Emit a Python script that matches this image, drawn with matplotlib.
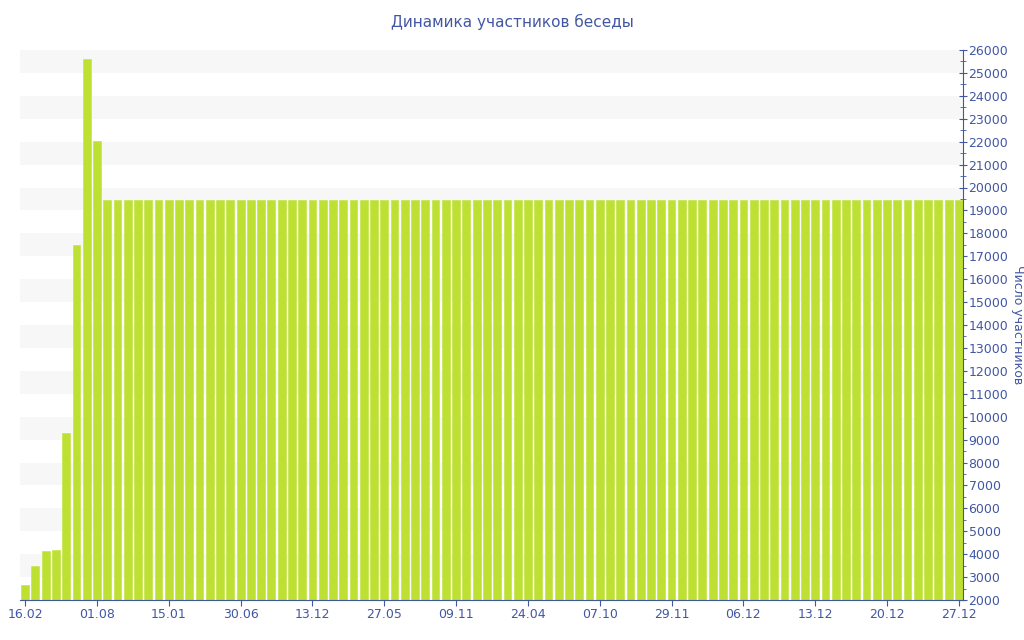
import matplotlib.pyplot as plt
import numpy as np
from matplotlib.ticker import MultipleLocator

# число участников по дням
first_days = [2650, 3500, 4150, 4200, 9300, 17500, 25620, 22050]
plateau = 19450
members = first_days + [plateau] * 84

tick_labels = ['16.02', '01.08', '15.01', '30.06', '13.12', '27.05', '09.11',
               '24.04', '07.10', '29.11', '06.12', '13.12', '20.12', '27.12']

blue = '#4257a3'
x = np.arange(len(members))

fig = plt.figure(figsize=(10.24, 6.4), dpi=100)
ax = fig.add_axes([20 / 1024, 40 / 640, 943 / 1024, 550 / 640])

ax.set_ylim(2000, 26000)
ax.set_xlim(-0.5, len(members) - 0.6)

# полосы фона
for lo in range(3000, 26000, 2000):
    ax.axhspan(lo, lo + 1000, color='#f7f7f7', lw=0, zorder=0)

ax.bar(x, np.array(members) - 2000, bottom=2000, width=0.76,
       color='#bde032', edgecolor='#c6e54a', linewidth=0.5, zorder=2)

ax.yaxis.tick_right()
ax.yaxis.set_label_position('right')
ax.yaxis.set_major_locator(MultipleLocator(1000))
ax.yaxis.set_minor_locator(MultipleLocator(500))
ax.tick_params(axis='y', which='major', direction='inout', length=6, color=blue,
               labelcolor=blue, labelsize=9, pad=1)
ax.tick_params(axis='y', which='minor', direction='inout', length=4, color=blue)
ax.set_ylabel('Число участников', color=blue, fontsize=9, rotation=270, va='center')
ax.yaxis.set_label_coords((1017 - 20) / 943, 0.5)

ax.set_xticks(x[::7])
ax.set_xticklabels(tick_labels)
ax.tick_params(axis='x', direction='out', length=4, color=blue,
               labelcolor=blue, labelsize=9, pad=2)

for s in ['top', 'left']:
    ax.spines[s].set_visible(False)
ax.spines['bottom'].set_color(blue)
ax.spines['right'].set_color(blue)

fig.text(0.5, 1 - 22 / 640, 'Динамика участников беседы', ha='center', va='center',
         color=blue, fontsize=11)

fig.savefig('out.png', dpi=100)
